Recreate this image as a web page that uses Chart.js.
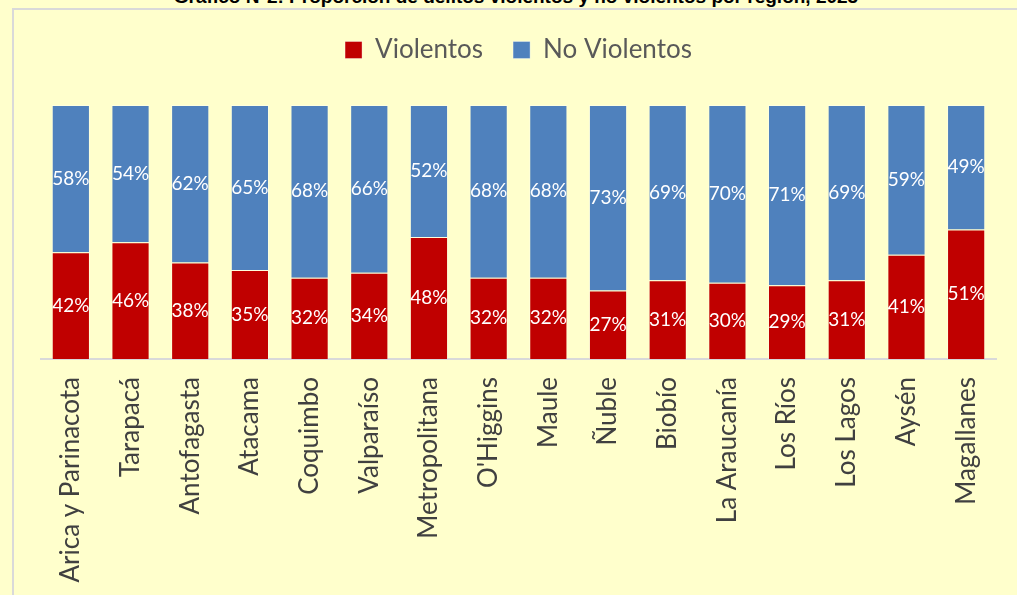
<!DOCTYPE html>
<html>
<head>
<meta charset="utf-8">
<script src="https://cdn.jsdelivr.net/npm/chart.js@4.4.1/dist/chart.umd.min.js"></script>
<style>
  html, body { margin: 0; padding: 0; background: #FFFFCC; overflow: hidden; }
  #wrap { position: relative; width: 1017px; height: 595px; }
  #frame { position: absolute; left: 12px; top: 8px; right: -5px; bottom: -5px;
           border-left: 2px solid #D9D9D9; border-top: 2px solid #D9D9D9; }
  #title { position: absolute; left: 0; width: 1032px; top: -14px; text-align: center;
           font: bold 19px "Liberation Sans", Arial, sans-serif; color: #000; white-space: nowrap; }
  canvas { position: absolute; left: 0; top: 0; }
</style>
</head>
<body>
<div id="wrap">
  <div id="frame"></div>
  <div id="title">Gráfico N°2: Proporción de delitos violentos y no violentos por región, 2023</div>
  <canvas id="graphicR" width="1017" height="595"></canvas>
</div>
<script>
const regions = ['Arica y Parinacota', 'Tarapacá', 'Antofagasta', 'Atacama', 'Coquimbo',
  'Valparaíso', 'Metropolitana', "O'Higgins", 'Maule', 'Ñuble', 'Biobío', 'La Araucanía',
  'Los Ríos', 'Los Lagos', 'Aysén', 'Magallanes'];
const violentos = [42, 46, 38, 35, 32, 34, 48, 32, 32, 27, 31, 30, 29, 31, 41, 51];
const noViolentos = [58, 54, 62, 65, 68, 66, 52, 68, 68, 73, 69, 70, 71, 69, 59, 49];

const canvasR = document.getElementById('graphicR');

// pushes the plot area down below the legend
const legendGap = {
    id: 'legendGap',
    beforeInit(chart){
        const fitLegend = chart.legend.fit;
        chart.legend.fit = function(){
            fitLegend.bind(chart.legend)();
            this.height += 32;
        };
    }
};

// white % labels in the middle of each segment
const segmentLabels = {
    id: 'segmentLabels',
    afterDatasetsDraw(chart){
        const ctx = chart.ctx;
        ctx.save();
        ctx.fillStyle = '#FFFFFF';
        ctx.font = '19px Lato';
        ctx.textAlign = 'center';
        ctx.textBaseline = 'middle';
        chart.data.datasets.forEach((ds, i)=>{
            chart.getDatasetMeta(i).data.forEach((bar, j)=>{
                const p = bar.getCenterPoint();
                ctx.fillText(ds.data[j] + '%', p.x, p.y);
            });
        });
        ctx.restore();
    }
};

new Chart(canvasR, {
    type: 'bar',
    data: {
        labels: regions,
        datasets: [{
            label: 'Violentos',
            data: violentos,
            backgroundColor: '#C00000',
            borderColor: 'rgba(255,255,255,0.35)',
            borderWidth: 1,
            barPercentage: 0.64,
            categoryPercentage: 1
        }, {
            label: 'No Violentos',
            data: noViolentos,
            backgroundColor: '#4F81BD',
            borderColor: 'rgba(255,255,255,0.35)',
            borderWidth: 1,
            barPercentage: 0.64,
            categoryPercentage: 1
        }]
    },
    options: {
        responsive: false,
        animation: false,
        layout: { padding: { left: 41, right: 21, top: 7, bottom: 0 } },
        plugins: {
            legend: {
                labels: {
                    boxWidth: 17, boxHeight: 17, padding: 30,
                    color: '#595959',
                    font: { family: 'Lato', size: 26 }
                }
            },
            tooltip: { enabled: false }
        },
        scales: {
            x: {
                stacked: true,
                grid: { display: false },
                border: { color: '#D9D9D9', width: 2 },
                ticks: {
                    minRotation: 90, maxRotation: 90, autoSkip: false,
                    color: '#404040',
                    font: { family: 'Lato', size: 26 },
                    padding: 10
                },
                afterFit(scale){ scale.height = 236; }
            },
            y: {
                stacked: true,
                display: false,
                min: 0, max: 100
            }
        }
    },
    plugins: [legendGap, segmentLabels]
});
</script>
</body>
</html>
